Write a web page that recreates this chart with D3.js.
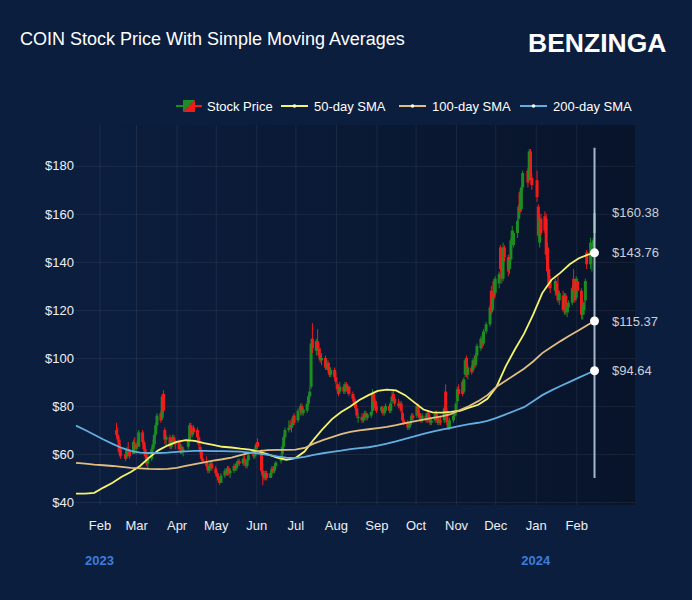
<!DOCTYPE html>
<html>
<head>
<meta charset="utf-8">
<script src="https://cdn.jsdelivr.net/npm/d3@7"></script>
<style>
html, body { margin: 0; background: #0c1e3e; }
svg { display: block; font-family: "Liberation Sans", Arial, Helvetica, sans-serif; }
</style>
</head>
<body>
<svg width="692" height="600"></svg>
<script>
// daily candles: date, open, high, low, close
var candles = [
["2023-02-14",70,73,67,68],["2023-02-15",68,71,65,66],["2023-02-16",66,67,60,61],["2023-02-17",62,64,58,59],
["2023-02-21",60,62,57,58],["2023-02-22",59,63,58,62],["2023-02-23",62,65,60,61],["2023-02-24",61,62,58,59],
["2023-02-27",60,66,60,65],["2023-02-28",64,67,62,63],
["2023-03-01",62,65,60,64],["2023-03-02",64,66,62,63],["2023-03-03",63,70,63,69],["2023-03-06",69,70,64,65],
["2023-03-07",65,66,61,62],["2023-03-08",62,64,58,59],["2023-03-09",59,60,55,56],["2023-03-10",56,60,54,58],
["2023-03-13",58,63,57,62],["2023-03-14",62,66,61,64],["2023-03-15",64,69,63,68],["2023-03-16",68,73,67,72],
["2023-03-17",72,77,71,76],["2023-03-20",77,78,73,74],["2023-03-21",75,85,74,84],["2023-03-22",85,86.5,77,78],
["2023-03-23",70,71,64,66],["2023-03-24",66,68,63,67],["2023-03-27",67,68,62,63],["2023-03-28",63,66,62,65],
["2023-03-29",65,68,64,67],["2023-03-30",67,68,64,65],["2023-03-31",65,66,62,64],
["2023-04-03",65,66,61,62],["2023-04-04",62,64,60,63],["2023-04-05",63,64,60,61],["2023-04-06",61,63,59,62],
["2023-04-10",63,67,62,66],["2023-04-11",66,73,65,72],["2023-04-12",72,73,67,68],["2023-04-13",68,71,67,70],
["2023-04-14",71,72,68,69],["2023-04-17",70,71,66,67],["2023-04-18",67,68,63,64],["2023-04-19",63,64,60,61],
["2023-04-20",61,62,57,58],["2023-04-21",58,59,56,57],["2023-04-24",57,59,54,55],["2023-04-25",55,56,52,53],
["2023-04-26",53,56,52,55],["2023-04-27",55,57,54,56],["2023-04-28",56,57,53,54],
["2023-05-01",54,55,51,52],["2023-05-02",52,53,50,50.5],["2023-05-03",50.5,52,48,49],["2023-05-04",49,50,47,48],
["2023-05-05",48,52,48,51],["2023-05-08",51,54,50,53],["2023-05-09",53,54,51,52],["2023-05-10",52,55,51,54],
["2023-05-11",54,55,51,52],["2023-05-12",52,54,50,53],["2023-05-15",53,56,52,55],["2023-05-16",55,56,53,54],
["2023-05-17",54,57,53,56],["2023-05-18",56,58,55,57],["2023-05-19",57,58,55,56],["2023-05-22",56,59,55,58],
["2023-05-23",58,60,57,57.5],["2023-05-24",57,58,54,55],["2023-05-25",55,58,54,57.5],["2023-05-26",57.5,60,57,59.5],
["2023-05-30",60,62,58,59],["2023-05-31",59,63,58,62],
["2023-06-01",62,65,61,64],["2023-06-02",65,66.5,62,63],["2023-06-05",61,62,52,53],["2023-06-06",53,56,47,51],
["2023-06-07",52,53,49,50],["2023-06-08",50,53,49,52],["2023-06-09",52,53,49,50],["2023-06-12",50,53,50,52],
["2023-06-13",52,55,51,54],["2023-06-14",54,55,52,53],["2023-06-15",53,56,52,55],["2023-06-16",55,57,54,56.5],
["2023-06-20",57,60,56,59],["2023-06-21",60,64,59,63],["2023-06-22",63,68,62,67],["2023-06-23",67,71,66,70],
["2023-06-26",70,74,69,71],["2023-06-27",72,74,70,71],["2023-06-28",71,73,69,72],["2023-06-29",72,76,71,75],
["2023-06-30",76,77,72,73],
["2023-07-03",74,79,73,78],["2023-07-05",78,81,76,80],["2023-07-06",80,81,76,77],["2023-07-07",77,79,76,78.5],
["2023-07-10",78,82,77,81],["2023-07-11",81,85,80,84],["2023-07-12",84,88,83,86],["2023-07-13",88,108,87,106],
["2023-07-14",108,114.5,102,104],["2023-07-17",103,108,101,107],["2023-07-18",107,112,103,104],["2023-07-19",104,106,100,101],
["2023-07-20",101,104,98,99],["2023-07-21",99,102,97,100],["2023-07-24",100,101,95,96],["2023-07-25",96,99,95,98],
["2023-07-26",98,99,94,95],["2023-07-27",96,98,92,93],["2023-07-28",93,96,92,95],["2023-07-31",95,96,91,92],
["2023-08-01",92,94,89,90],["2023-08-02",89,90,86,87],["2023-08-03",87,89,84,85],["2023-08-04",86,90,85,88],
["2023-08-07",88,89,85,86],["2023-08-08",86,90,85,89],["2023-08-09",89,90,86,87],["2023-08-10",87,89,85,88],
["2023-08-11",88,88.5,84,85],["2023-08-14",85,86,82,83],["2023-08-15",83,84,80,81],["2023-08-16",81,82,78,79],
["2023-08-17",79,80,75,76],["2023-08-18",75,77,73,75.5],["2023-08-21",75.5,77,73,74],["2023-08-22",74,76,73,75],
["2023-08-23",75,78,74,77],["2023-08-24",77,78,74,75],["2023-08-25",75,77,74,76.5],["2023-08-28",76,78,75,77.5],
["2023-08-29",78,87,77,85],["2023-08-30",85,86,81,82],["2023-08-31",82,83,78,79],
["2023-09-01",80,82,77,78],["2023-09-05",78,80,77,79.5],["2023-09-06",79,80,76,77],["2023-09-07",77,79,76,78],
["2023-09-08",78,81,77,80],["2023-09-11",80,81,77,78],["2023-09-12",78,82,77,81],["2023-09-13",82,86,81,84],
["2023-09-14",85,87,82,83],["2023-09-15",83,84,80,81],["2023-09-18",81,83,79,80],["2023-09-19",80,82,79,81],
["2023-09-20",81,82,77,78],["2023-09-21",77,78,73,74],["2023-09-22",74,75,72,73],["2023-09-25",73,74,70,71],
["2023-09-26",71,73,70,72],["2023-09-27",72,74,71,73.5],["2023-09-28",74,77,73,76],["2023-09-29",76,77,74,75],
["2023-10-02",76,81,75,80],["2023-10-03",80,81,76,77],["2023-10-04",77,78,74,75],["2023-10-05",75,76,73,74],
["2023-10-06",74,77,73,76],["2023-10-09",76,77,73,74],["2023-10-10",74,78,73,77],["2023-10-11",77,78,74,75],
["2023-10-12",75,76,72,73],["2023-10-13",73,75,72,74],["2023-10-16",74,78,73,77],["2023-10-17",77,78,74,75],
["2023-10-18",75,76,72,73],["2023-10-19",73,75,72,74],["2023-10-20",74,76,72,73],["2023-10-23",74,80,73,79],
["2023-10-24",86,89,77,78],["2023-10-25",78,79,72,73],["2023-10-26",73,74,70,71],["2023-10-27",71,75,70,74],
["2023-10-30",74,77,73,76],["2023-10-31",76,78,75,77],
["2023-11-01",77,82,76,81],["2023-11-02",82,88,81,87],["2023-11-03",87,89,84,85],["2023-11-06",90,91,84,85],
["2023-11-07",86,92,85,91],["2023-11-08",93,100,92,99],["2023-11-09",100,101,92,93],["2023-11-10",93,97,91,96],
["2023-11-13",96,97,93,94],["2023-11-14",95,100,94,99],["2023-11-15",99,101,96,97],["2023-11-16",97,102,96,101],
["2023-11-17",101,106,100,105],["2023-11-20",104,109,103,108],["2023-11-21",108,110,104,106],["2023-11-22",106,112,105,111],
["2023-11-24",111,115,110,114],["2023-11-27",114,122,113,121],["2023-11-28",128,130,118,119],["2023-11-29",120,126,119,125],
["2023-11-30",132,133,124,125],
["2023-12-01",127,134,126,133],["2023-12-04",131,136,129,135],["2023-12-05",146,147,136,137],["2023-12-06",138,141,131,133],
["2023-12-07",133,148,132,146],["2023-12-08",146,147,140,142],["2023-12-11",142,143,134,136],["2023-12-12",137,142,135,141],
["2023-12-13",141,150,140,149],["2023-12-14",149,155,147,153],["2023-12-15",147,153,146,152],["2023-12-18",152,158,150,157],
["2023-12-19",158,164,157,163],["2023-12-20",169,170,160,161],["2023-12-21",162,172,161,171],["2023-12-22",171,178,170,177],
["2023-12-26",178,179,171,173],["2023-12-27",174,187,174,186],["2023-12-28",186,187,174,175],["2023-12-29",175,177,170,172],
["2024-01-02",174,178,165,167],["2024-01-03",163,164,150,151],["2024-01-04",148,160,146,158],["2024-01-05",158,160,151,152],
["2024-01-08",159,161,152,153],["2024-01-09",158,160,141,143],["2024-01-10",146,148,134,136],["2024-01-11",137,139,129,131],
["2024-01-12",132,134,127,129],["2024-01-16",128,133,126,132],["2024-01-17",131,132,126,127],["2024-01-18",128,134,123,124],
["2024-01-19",124,128,122,127],["2024-01-22",126,128,119,120],["2024-01-23",120,127,118,126],["2024-01-24",126,127,118,119],
["2024-01-25",119,122,117,121],["2024-01-26",121,124,119,123],["2024-01-29",123,130,122,129],["2024-01-30",133,137,127,128],
["2024-01-31",128,131,123,124],
["2024-02-01",125,134,124,133],["2024-02-02",132,133,127,128],["2024-02-05",128,129,116,118],["2024-02-06",118,122,116,121],
["2024-02-07",120,124,118,123],["2024-02-08",124,133,123,132],["2024-02-09",144,145,137,139],["2024-02-12",139,150,137,148],
["2024-02-13",142,146,136,143],["2024-02-14",146,150,143,149],["2024-02-15",152,162,148,160.38]
];

// weekly readings of the moving averages, Jan 14 2023 .. Feb 10 2024, then Feb 15 2024
var sma50 = [43.5,43.5,43.8,46,48,50.5,52.5,55,58.5,61.5,63.5,65,65.8,65.5,64.5,63.8,63,62.7,62.2,61.8,
  61,59.8,58.5,57.6,58.3,61,66,70.5,74.5,77.5,79.8,82.5,84.5,86.3,86.8,86.5,84.5,81.5,78.5,77.3,
  77.2,77.5,78,79.3,80.5,83,88,96.5,103.5,110,118,127,132.5,135.5,139,141.5,143,143.76];
var sma100 = [56.3,56,55.6,55.3,55,54.6,54.2,54,53.8,53.7,53.8,54.2,55,55.8,56.5,57.2,57.8,58.5,59.5,60.5,
  61.2,61.6,61.7,61.7,61.8,62.5,64.3,65.8,67,68.3,69.2,69.8,70.3,70.8,71.3,72,72.8,73.6,74.3,75,
  75.7,76.6,78.3,80,82,84.5,88,90.5,93,95.5,98.5,102,104.5,107,109.3,111.5,113.8,115.37];
var sma200 = [71.8,70,68,66,64.2,62.5,61.3,60.6,60.4,60.4,60.6,60.9,61.1,61.3,61.3,61.2,61.2,61.1,61,60.6,
  60.2,59.6,59,58.5,58.3,58.8,59.6,60.3,60.9,61.4,62,62.4,62.8,63.5,64.3,65.2,66.3,67.3,68.4,69.3,
  70.1,70.9,71.7,72.4,73,73.8,75,76.5,78,79.5,82,84.5,86.5,88.3,90,91.8,93.5,94.64];

var priceTicks = [40, 60, 80, 100, 120, 140, 160, 180];
var monthTicks = ["2023-02-01","2023-03-01","2023-04-01","2023-05-01","2023-06-01","2023-07-01","2023-08-01",
  "2023-09-01","2023-10-01","2023-11-01","2023-12-01","2024-01-01","2024-02-01"];
var yearLabels = [["2023-02-01","2023"],["2024-01-01","2024"]];
var guideRange = [50, 187.5];

var parse = d3.timeParse("%Y-%m-%d");
candles = candles.map(function(d) {
  return {date: parse(d[0]), open: d[1], high: d[2], low: d[3], close: d[4]};
});
var smaDates = d3.timeDay.range(new Date(2023, 0, 14), new Date(2024, 1, 11), 7);
smaDates.push(new Date(2024, 1, 15));
function series(vals) { return vals.map(function(v, i) { return {date: smaDates[i], value: v}; }); }

var svg = d3.select("svg");
var plot = {left: 76, right: 635, top: 125, bottom: 505};

var x = d3.scaleTime()
  .domain([new Date(2023, 0, 14), new Date(2024, 2, 17)])
  .range([plot.left, plot.right]);
var y = d3.scaleLinear()
  .domain([38.75, 197])
  .range([plot.bottom, plot.top]);

// plot background
var grad = svg.append("defs").append("linearGradient")
  .attr("id", "plotbg").attr("x1", 0).attr("x2", 1).attr("y1", 0).attr("y2", 0);
grad.append("stop").attr("offset", 0).attr("stop-color", "#0c1e3e");
grad.append("stop").attr("offset", 1).attr("stop-color", "#08142a");

svg.append("rect")
  .attr("x", plot.left).attr("y", plot.top)
  .attr("width", plot.right - plot.left).attr("height", plot.bottom - plot.top)
  .attr("fill", "url(#plotbg)");

// axes + grid
var yAxis = svg.append("g")
  .attr("transform", "translate(" + plot.left + ",0)")
  .call(d3.axisLeft(y).tickValues(priceTicks).tickFormat(function(d) { return "$" + d; })
    .tickSize(-(plot.right - plot.left)).tickPadding(2));
var xAxis = svg.append("g")
  .attr("transform", "translate(0," + plot.bottom + ")")
  .call(d3.axisBottom(x).tickValues(monthTicks.map(parse)).tickFormat(d3.timeFormat("%b"))
    .tickSize(-(plot.bottom - plot.top)).tickPadding(16));
[xAxis, yAxis].forEach(function(g) {
  g.select(".domain").remove();
  g.selectAll(".tick line").attr("stroke", "#ffffff").attr("stroke-opacity", 0.07);
  g.selectAll(".tick text").attr("fill", "#eceef3").attr("font-size", 13)
    .attr("font-family", "'Liberation Sans', Arial, sans-serif");
});

svg.selectAll(".year")
  .data(yearLabels)
  .enter().append("text")
  .attr("class", "year")
  .attr("x", function(d) { return x(parse(d[0])); })
  .attr("y", 564.5)
  .attr("text-anchor", "middle")
  .attr("font-size", 13).attr("font-weight", "bold")
  .attr("fill", "#3b7ddd")
  .text(function(d) { return d[1]; });

// candles
var up = "#1c8c23", down = "#f21b1b";
var candle = svg.append("g").selectAll("g")
  .data(candles)
  .enter().append("g");
candle.append("line")
  .attr("x1", function(d) { return x(d.date); })
  .attr("x2", function(d) { return x(d.date); })
  .attr("y1", function(d) { return y(d.high); })
  .attr("y2", function(d) { return y(d.low); })
  .attr("stroke", function(d) { return d.close >= d.open ? up : down; })
  .attr("stroke-width", 1);
candle.append("rect")
  .attr("x", function(d) { return x(d.date) - 1.5; })
  .attr("width", 3)
  .attr("y", function(d) { return y(Math.max(d.open, d.close)); })
  .attr("height", function(d) { return Math.max(1, Math.abs(y(d.open) - y(d.close))); })
  .attr("fill", function(d) { return d.close >= d.open ? up : down; });

// moving averages
var smas = [
  {name: "50-day SMA", color: "#f6f56a", data: series(sma50)},
  {name: "100-day SMA", color: "#e2bd80", data: series(sma100)},
  {name: "200-day SMA", color: "#62aee0", data: series(sma200)}
];
var line = d3.line()
  .x(function(d) { return x(d.date); })
  .y(function(d) { return y(d.value); });
svg.append("g").selectAll("path")
  .data(smas)
  .enter().append("path")
  .attr("d", function(d) { return line(d.data); })
  .attr("fill", "none")
  .attr("stroke", function(d) { return d.color; })
  .attr("stroke-width", 1.8);

// guide at last day
var last = candles[candles.length - 1];
svg.append("line")
  .attr("x1", x(last.date)).attr("x2", x(last.date))
  .attr("y1", y(guideRange[1])).attr("y2", y(guideRange[0]))
  .attr("stroke", "#c0d3e6").attr("stroke-opacity", 0.85).attr("stroke-width", 2);

svg.append("g").selectAll("circle")
  .data(smas)
  .enter().append("circle")
  .attr("cx", x(last.date))
  .attr("cy", function(d) { return y(d.data[d.data.length - 1].value); })
  .attr("r", 4.5)
  .attr("fill", "#ffffff");

var endValues = [last.close].concat(smas.map(function(d) { return d.data[d.data.length - 1].value; }));
svg.append("g").selectAll("text")
  .data(endValues)
  .enter().append("text")
  .attr("x", 612)
  .attr("y", function(d) { return y(d) + 4.5; })
  .attr("font-size", 13)
  .attr("fill", "#c9ced8")
  .text(function(d) { return "$" + d3.format(".2f")(d); });

// legend
var legend = svg.append("g");
var ly = 106;
legend.append("line").attr("x1", 176).attr("x2", 189).attr("y1", ly).attr("y2", ly)
  .attr("stroke", up).attr("stroke-width", 2);
legend.append("line").attr("x1", 189).attr("x2", 202).attr("y1", ly).attr("y2", ly)
  .attr("stroke", down).attr("stroke-width", 2);
legend.append("path").attr("d", "M183,100H195L183,112Z").attr("fill", up);
legend.append("path").attr("d", "M195,100V112H183Z").attr("fill", down);
legend.append("text").attr("x", 207).attr("y", ly + 4.5).attr("font-size", 13)
  .attr("fill", "#ffffff").text("Stock Price");

var legendX = [281, 399, 520];
smas.forEach(function(s, i) {
  var lx = legendX[i];
  legend.append("line").attr("x1", lx).attr("x2", lx + 27).attr("y1", ly).attr("y2", ly)
    .attr("stroke", s.color).attr("stroke-width", 2);
  legend.append("circle").attr("cx", lx + 13.5).attr("cy", ly).attr("r", 1.8).attr("fill", "#ffffff");
  legend.append("text").attr("x", lx + 33).attr("y", ly + 4.5).attr("font-size", 13)
    .attr("fill", "#ffffff").text(s.name);
});

// title and logo
svg.append("text")
  .attr("x", 20).attr("y", 44.5)
  .attr("font-size", 18)
  .attr("fill", "#ffffff")
  .text("COIN Stock Price With Simple Moving Averages");
svg.append("text")
  .attr("x", 528).attr("y", 52)
  .attr("font-size", 26.5).attr("font-weight", "bold")
  .attr("fill", "#ffffff")
  .text("BENZINGA");
</script>
</body>
</html>
